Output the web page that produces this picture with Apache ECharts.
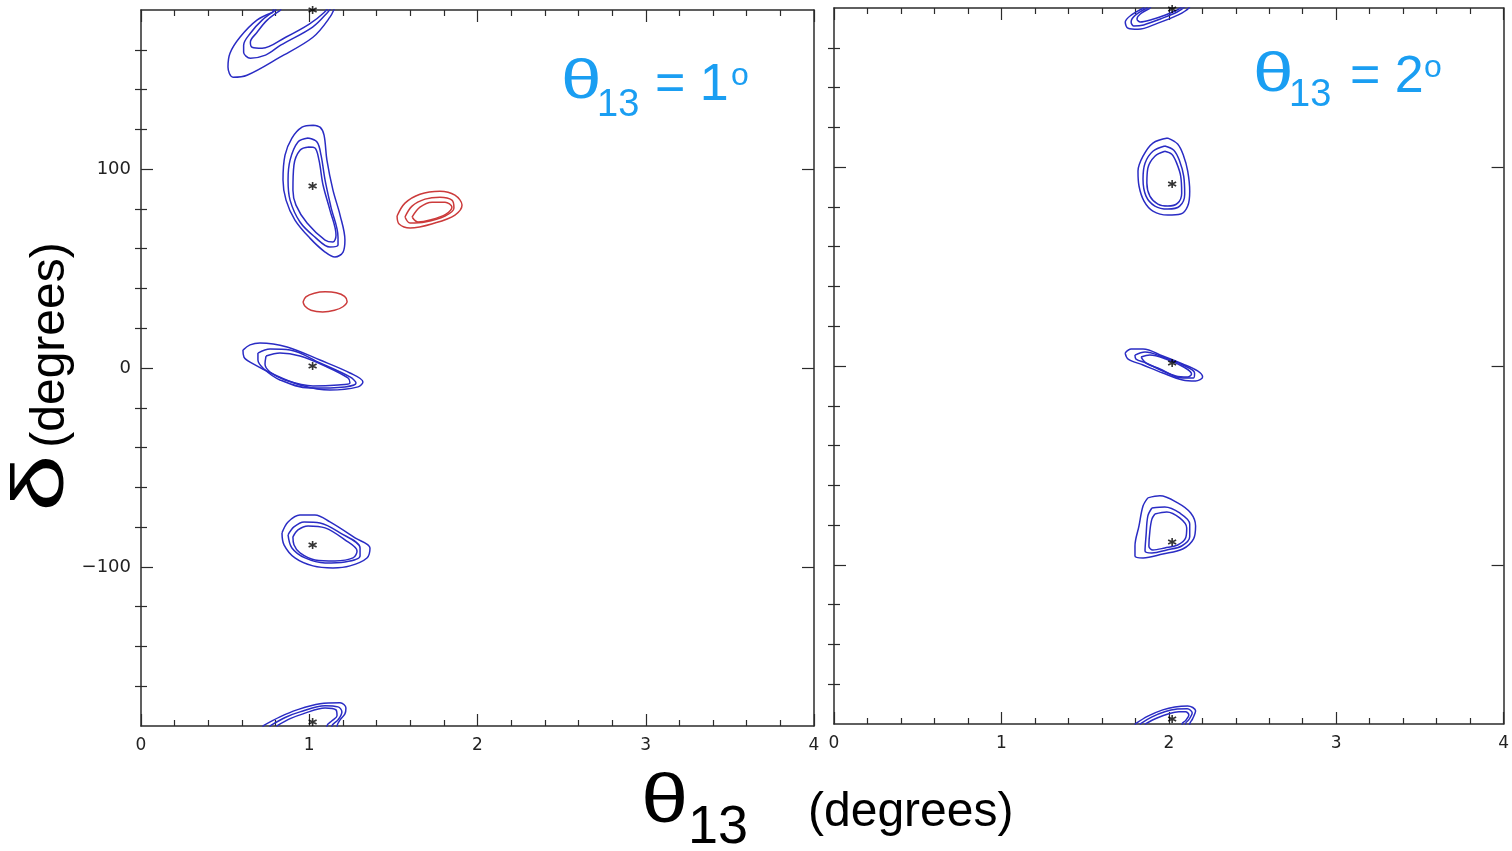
<!DOCTYPE html>
<html>
<head>
<meta charset="utf-8">
<script src="https://cdn.jsdelivr.net/npm/echarts@6/dist/echarts.min.js"></script>
<style>
  html, body { margin: 0; padding: 0; background: #fff; }
  #chart { width: 1512px; height: 851px; }
</style>
</head>
<body>
<div id="chart"></div>
<script>
// Axis ranges and tick positions (theta13 in degrees, delta in degrees)
const xRange = [0, 4];
const yRange = [-180, 180];
const yMajorTicks = [-100, 0, 100];
const yMinorTicks = [-160, -140, -120, -80, -60, -40, -20, 20, 40, 60, 80, 120, 140, 160];

// ---- Panel 1: true theta13 = 1 deg ----
// Contours around delta = +180 (open across the top edge)
const p1TopOuter = [[0.785,178.9],[0.689,174.9],[0.588,166.3],[0.529,158.3],[0.517,151.3],[0.547,146.2],[0.630,147.2],[0.826,156.3],[1.022,166.3],[1.123,176.4],[1.159,182.4],[1.21,190],[0.89,192],[0.80,184]];
const p1TopMid   = [[0.80,179.9],[0.72,174.9],[0.65,168.3],[0.61,162.3],[0.61,158.8],[0.65,155.8],[0.74,157.3],[0.83,162.3],[1.02,171.4],[1.11,178.9],[1.14,182.4],[1.18,190],[0.90,192],[0.81,184]];
const p1TopInner = [[0.83,179.9],[0.75,174.9],[0.69,168.8],[0.65,163.8],[0.66,161.3],[0.72,160.8],[0.86,166.3],[1.00,172.9],[1.09,178.9],[1.12,182.4],[1.15,190],[0.92,192],[0.84,184]];
// Contours around delta = -180 (open across the bottom edge)
const p1BotOuter = [[0.725,-179.9],[0.826,-175.4],[0.927,-171.9],[1.064,-168.8],[1.183,-168.3],[1.218,-170.9],[1.212,-173.9],[1.183,-176.9],[1.165,-179.9],[1.16,-186],[0.72,-186]];
const p1BotMid   = [[0.767,-179.9],[0.86,-175.6],[0.945,-172.9],[1.094,-169.8],[1.171,-170.4],[1.194,-172.9],[1.171,-176.9],[1.135,-179.9],[1.13,-186],[0.76,-186]];
const p1BotInner = [[0.808,-179.9],[0.89,-176.2],[0.963,-173.9],[1.094,-170.9],[1.159,-171.9],[1.165,-174.9],[1.135,-177.4],[1.105,-179.9],[1.10,-186],[0.80,-186]];
// Contours around delta = +90
const p1P90Outer = [[1.022,122.1],[1.064,121.1],[1.088,117.1],[1.105,104.5],[1.141,89.4],[1.183,76.9],[1.212,64.3],[1.201,58.3],[1.153,55.8],[1.094,58.3],[1.004,65.3],[0.915,74.4],[0.862,84.4],[0.844,94.5],[0.856,107.0],[0.897,115.6],[0.957,121.1]];
const p1P90Mid   = [[0.993,115.6],[1.046,113.6],[1.070,107.0],[1.094,94.5],[1.129,80.9],[1.171,65.8],[1.171,61.8],[1.123,60.8],[1.034,65.8],[0.945,73.4],[0.886,84.4],[0.874,94.5],[0.886,104.5],[0.933,113.6]];
const p1P90Inner = [[0.999,111.1],[1.034,110.6],[1.058,104.5],[1.082,92.0],[1.123,79.4],[1.159,66.8],[1.141,63.3],[1.094,64.3],[0.987,72.9],[0.921,81.9],[0.903,89.4],[0.909,102.0],[0.945,109.5]];
// Contours around delta = 0
const p1ZeroOuter = [[0.606,9.0],[0.648,11.6],[0.707,12.6],[0.868,10.6],[1.064,4.0],[1.242,-2.5],[1.319,-7.0],[1.290,-9.5],[1.123,-11.1],[0.945,-8.5],[0.796,-3.5],[0.648,3.0],[0.612,5.5]];
const p1ZeroMid   = [[0.695,7.5],[0.767,9.5],[0.886,9.0],[1.064,2.5],[1.242,-4.5],[1.278,-7.5],[1.212,-9.5],[1.004,-10.1],[0.826,-6.0],[0.731,-0.5],[0.695,4.0]];
const p1ZeroInner = [[0.743,6.0],[0.826,7.5],[0.945,6.0],[1.094,1.0],[1.230,-5.0],[1.242,-7.5],[1.171,-8.5],[1.022,-9.0],[0.856,-6.0],[0.767,-2.0],[0.737,2.0]];
// Contours around delta = -90
const p1M90Outer = [[0.838,-82.9],[0.874,-77.4],[0.945,-73.9],[1.034,-73.9],[1.123,-77.4],[1.272,-85.4],[1.361,-90.5],[1.343,-95.5],[1.242,-99.5],[1.141,-100.5],[1.022,-99.5],[0.915,-95.5],[0.850,-88.9]];
const p1M90Mid   = [[0.874,-83.9],[0.909,-79.9],[0.969,-77.4],[1.064,-77.9],[1.183,-82.9],[1.302,-90.5],[1.302,-94.5],[1.212,-97.5],[1.094,-98.0],[0.975,-95.5],[0.897,-90.5]];
const p1M90Inner = [[0.903,-84.9],[0.933,-81.4],[0.993,-79.4],[1.094,-80.4],[1.212,-86.4],[1.284,-92.0],[1.260,-95.5],[1.153,-97.0],[1.034,-96.5],[0.945,-93.0],[0.909,-88.9]];
// Fake (clone) solutions, drawn in red
const p1CloneOuter = [[1.522,76.4],[1.569,82.9],[1.658,87.4],[1.777,88.9],[1.866,86.9],[1.908,81.9],[1.866,76.9],[1.747,72.9],[1.599,70.4],[1.534,72.4]];
const p1CloneMid   = [[1.569,75.9],[1.611,81.4],[1.688,84.9],[1.777,85.9],[1.848,84.4],[1.860,80.4],[1.807,76.4],[1.688,73.4],[1.599,72.9]];
const p1CloneInner = [[1.611,75.9],[1.658,80.9],[1.730,83.4],[1.807,83.4],[1.848,80.9],[1.813,77.4],[1.718,74.4],[1.646,73.4]];
const p1CloneSmall = [[0.963,33.2],[0.980,35.8],[1.030,37.6],[1.095,38.3],[1.160,37.8],[1.210,36.0],[1.225,33.4],[1.200,30.8],[1.150,29.0],[1.080,28.2],[1.010,29.0],[0.975,31.0]];
// Input (true) parameter points
const p1Truth = [[1.02,180],[1.02,91.5],[1.02,1],[1.02,-89],[1.02,-178]];

// ---- Panel 2: true theta13 = 2 deg ----
const p2TopOuter = [[1.85,180],[1.775,176.4],[1.74,172.9],[1.757,169.8],[1.816,169.3],[1.935,172.4],[2.053,176.4],[2.12,180],[2.16,186],[1.87,186]];
const p2TopMid   = [[1.87,180],[1.80,176.4],[1.775,173],[1.79,171],[1.85,171.5],[1.95,174.5],[2.05,178],[2.10,181],[2.14,186],[1.89,186]];
const p2TopInner = [[1.89,180],[1.83,177],[1.81,174.5],[1.83,173],[1.89,174],[1.98,176.5],[2.06,179.5],[2.09,182],[2.12,186],[1.91,186]];
const p2BotOuter = [[1.80,-179.9],[1.875,-176],[1.964,-172.9],[2.036,-171.4],[2.113,-170.9],[2.16,-173.4],[2.142,-177.4],[2.125,-179.9],[2.12,-186],[1.79,-186]];
const p2BotMid   = [[1.83,-179.9],[1.90,-176.4],[1.98,-173.7],[2.05,-172.5],[2.11,-172.3],[2.14,-174.5],[2.12,-177.8],[2.10,-179.9],[2.10,-186],[1.82,-186]];
const p2BotInner = [[1.86,-179.9],[1.93,-177],[2.00,-174.8],[2.06,-173.8],[2.10,-173.8],[2.12,-175.5],[2.10,-178.3],[2.08,-179.9],[2.08,-186],[1.85,-186]];
const p2P90Outer = [[1.994,114.6],[1.905,112.1],[1.846,105.5],[1.816,98.0],[1.822,90.5],[1.852,82.9],[1.905,77.9],[1.994,75.9],[2.071,76.4],[2.113,80.4],[2.125,87.9],[2.113,98.0],[2.089,105.5],[2.053,111.6]];
const p2P90Mid   = [[1.976,110.6],[1.905,108.0],[1.858,102.0],[1.846,94.0],[1.864,85.4],[1.917,80.4],[1.994,78.9],[2.065,80.4],[2.095,86.4],[2.089,95.5],[2.065,103.0],[2.030,108.5]];
const p2P90Inner = [[1.976,108.0],[1.917,105.5],[1.875,99.5],[1.869,92.0],[1.887,85.4],[1.935,81.4],[1.994,80.4],[2.053,81.9],[2.077,86.9],[2.071,95.5],[2.047,102.0],[2.018,106.5]];
const p2ZeroOuter = [[1.739,6.5],[1.775,8.5],[1.846,8.5],[1.964,5.0],[2.083,1.0],[2.172,-2.5],[2.202,-5.5],[2.160,-7.5],[2.083,-7.0],[1.964,-3.5],[1.846,0.5],[1.757,3.5]];
const p2ZeroMid   = [[1.798,5.5],[1.858,7.0],[1.964,4.5],[2.083,0.5],[2.154,-3.5],[2.148,-6.0],[2.083,-6.0],[1.964,-2.5],[1.864,1.5],[1.804,3.5]];
const p2ZeroInner = [[1.834,4.5],[1.887,5.5],[1.982,3.5],[2.089,-0.5],[2.136,-4.0],[2.113,-5.5],[2.041,-5.0],[1.947,-1.5],[1.864,1.5]];
const p2M90Outer = [[1.875,-66.3],[1.947,-65.3],[2.053,-68.8],[2.131,-73.9],[2.160,-80.4],[2.148,-86.9],[2.083,-92.0],[1.964,-94.5],[1.846,-96.5],[1.798,-95.5],[1.798,-90.5],[1.822,-80.4],[1.846,-70.4]];
const p2M90Mid   = [[1.899,-71.4],[1.976,-70.9],[2.065,-73.9],[2.125,-79.4],[2.125,-85.9],[2.077,-90.5],[1.988,-92.5],[1.899,-94.0],[1.858,-93.0],[1.864,-85.4],[1.875,-75.4]];
const p2M90Inner = [[1.917,-74.4],[1.988,-73.4],[2.065,-76.4],[2.107,-81.4],[2.101,-86.4],[2.053,-90.0],[1.976,-91.5],[1.905,-92.5],[1.881,-90.5],[1.887,-83.0],[1.899,-77.0]];
const p2Truth = [[2.02,179.5],[2.02,91.5],[2.02,1.5],[2.02,-88.5],[2.02,-177.5]];

const BLUE = '#2a2cc4';
const RED = '#cc3b3b';
const AXIS = '#2b2b2b';
const LABEL_FONT = '"DejaVu Sans", sans-serif';
const TITLE_FONT = '"Liberation Sans", Arial, sans-serif';
const TEXT_BLUE = '#1a9ef2';

const panels = [
  {
    left: 141, right: 698, top: 10, height: 716, yLabels: true,
    blue: [p1TopOuter, p1TopMid, p1TopInner, p1BotOuter, p1BotMid, p1BotInner,
           p1P90Outer, p1P90Mid, p1P90Inner, p1ZeroOuter, p1ZeroMid, p1ZeroInner,
           p1M90Outer, p1M90Mid, p1M90Inner],
    red: [p1CloneOuter, p1CloneMid, p1CloneInner, p1CloneSmall],
    truth: p1Truth
  },
  {
    left: 834, right: 4, top: 8, height: 716, yLabels: false,
    blue: [p2TopOuter, p2TopMid, p2TopInner, p2BotOuter, p2BotMid, p2BotInner,
           p2P90Outer, p2P90Mid, p2P90Inner, p2ZeroOuter, p2ZeroMid, p2ZeroInner,
           p2M90Outer, p2M90Mid, p2M90Inner],
    red: [],
    truth: p2Truth
  }
];

const grids = [], xAxes = [], yAxes = [], series = [];
const axisLine = { show: true, onZero: false, lineStyle: { color: AXIS, width: 1.5 } };

panels.forEach(function (p, g) {
  grids.push({ left: p.left, right: p.right, top: p.top, height: p.height, containLabel: false });
  ['bottom', 'top'].forEach(function (pos) {
    xAxes.push({
      type: 'value', gridIndex: g, position: pos, min: xRange[0], max: xRange[1], interval: 1,
      axisLine: axisLine,
      axisTick: { show: true, inside: true, length: 12, lineStyle: { color: AXIS, width: 1.2 } },
      minorTick: { show: true, splitNumber: 5, length: 6, lineStyle: { color: AXIS, width: 1.2 } },
      axisLabel: pos === 'bottom'
        ? { show: true, margin: 11, fontSize: 17, color: '#222', fontFamily: LABEL_FONT }
        : { show: false },
      splitLine: { show: false }
    });
  });
  ['left', 'right'].forEach(function (pos) {
    yAxes.push({
      type: 'value', gridIndex: g, position: pos, min: yRange[0], max: yRange[1],
      axisLine: axisLine,
      axisTick: { show: true, inside: true, length: 12, customValues: yMajorTicks, lineStyle: { color: AXIS, width: 1.2 } },
      axisLabel: (pos === 'left' && p.yLabels)
        ? { show: true, margin: 10, fontSize: 18, color: '#222', fontFamily: LABEL_FONT,
            customValues: yMajorTicks,
            formatter: function (v) { return String(v).replace('-', '\u2212'); } }
        : { show: false },
      splitLine: { show: false }
    });
    yAxes.push({
      type: 'value', gridIndex: g, position: pos, min: yRange[0], max: yRange[1],
      axisLine: { show: false },
      axisTick: { show: true, inside: true, length: 6, customValues: yMinorTicks, lineStyle: { color: AXIS, width: 1.2 } },
      axisLabel: { show: false },
      splitLine: { show: false }
    });
  });

  const xi = g * 2, yi = g * 4;
  function addRing(ring, color) {
    series.push({
      type: 'line', xAxisIndex: xi, yAxisIndex: yi, data: ring.concat([ring[0]]),
      smooth: 0.35, showSymbol: false, clip: true, silent: true, animation: false,
      lineStyle: { color: color, width: 1.5 }
    });
  }
  p.blue.forEach(function (r) { addRing(r, BLUE); });
  p.red.forEach(function (r) { addRing(r, RED); });
  series.push({
    type: 'scatter', xAxisIndex: xi, yAxisIndex: yi, data: p.truth, clip: false,
    symbol: 'path://M5,0L5,10M0.67,2.5L9.33,7.5M0.67,7.5L9.33,2.5', symbolSize: 8,
    itemStyle: { color: 'rgba(0,0,0,0)', borderColor: '#000', borderWidth: 1.6 },
    silent: true, animation: false, z: 5
  });
});

// Annotations and axis titles; the Greek symbols are widened to the symbol-font proportions
function txt(text, x, y, size, color, opts) {
  return Object.assign({
    type: 'text', x: x, y: y, silent: true,
    style: { text: text, font: size + 'px ' + TITLE_FONT, fill: color, textAlign: 'left', textVerticalAlign: 'middle' }
  }, opts || {});
}
const graphics = [
  // panel 1 label
  txt('\u03b8', 561, 83, 56, TEXT_BLUE, { scaleX: 1.3 }),
  txt('13', 597, 106, 38, TEXT_BLUE),
  txt('= 1', 655, 86, 52, TEXT_BLUE),
  txt('o', 731, 76, 32, TEXT_BLUE),
  // panel 2 label
  txt('\u03b8', 1253, 76, 56, TEXT_BLUE, { scaleX: 1.3 }),
  txt('13', 1289, 96, 38, TEXT_BLUE),
  txt('= 2', 1350, 78, 52, TEXT_BLUE),
  txt('o', 1424, 68, 32, TEXT_BLUE),
  // x-axis title
  txt('\u03b8', 641, 803, 68, '#000', { scaleX: 1.25 }),
  txt('13', 688, 828, 54, '#000'),
  txt('(degrees)', 808, 813, 48, '#000'),
  // y-axis title (rotated)
  txt('\u03b4', 43, 483, 72, '#000', { rotation: Math.PI / 2, scaleX: 1.42 }),
  txt('(degrees)', 51, 345, 48, '#000', { rotation: Math.PI / 2 })
];
graphics[11].style.textAlign = 'center';
graphics[12].style.textAlign = 'center';

const chart = echarts.init(document.getElementById('chart'), null, { renderer: 'canvas' });
chart.setOption({
  animation: false,
  backgroundColor: '#fff',
  grid: grids,
  xAxis: xAxes,
  yAxis: yAxes,
  series: series,
  graphic: graphics
});
</script>
</body>
</html>
